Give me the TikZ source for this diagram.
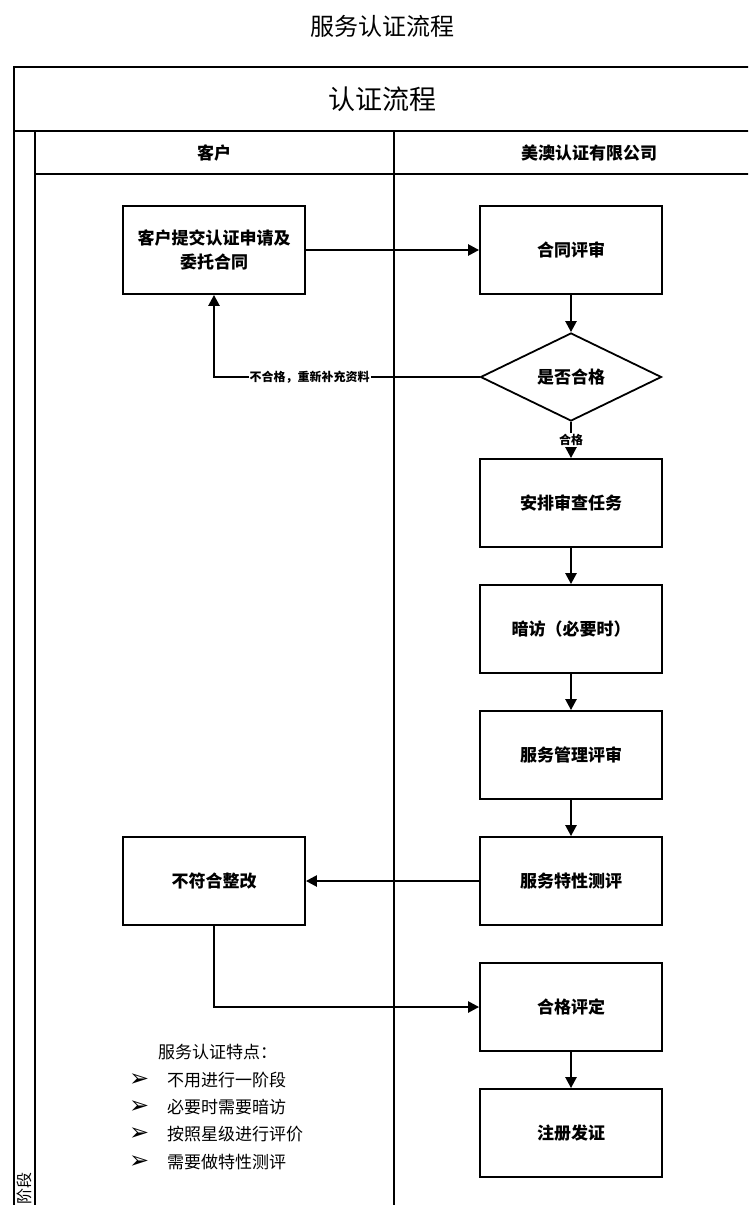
\documentclass[tikz,border=0pt]{standalone}
\usepackage{fontspec}
\setmainfont{Liberation Sans}
\newfontfamily\cjk{Noto Sans CJK SC}
\newfontfamily\symfont{DejaVu Sans}
\usetikzlibrary{arrows.meta,shapes.geometric}
\begin{document}
\begin{tikzpicture}[x=1pt,y=-1pt,
  box/.style={draw, line width=1.8pt, minimum width=182pt, minimum height=88pt, inner sep=0pt, align=center, font=\cjk\bfseries\fontsize{17}{24}\selectfont},
  dia/.style={draw, diamond, aspect=2, line width=1.8pt, minimum width=181pt, minimum height=88pt, inner sep=0pt, font=\cjk\bfseries\fontsize{17}{24}\selectfont},
  conn/.style={line width=2.4pt, -{Triangle[length=11pt,width=11pt]}},
  lab/.style={fill=white, inner sep=1pt, font=\cjk\bfseries\fontsize{12}{14}\selectfont},
  frame/.style={line width=1.8pt},
  thin/.style={line width=1.3pt},
  bul/.style={anchor=west, inner sep=0pt, font=\symfont\fontsize{24}{26}\selectfont},
  note/.style={anchor=west, inner sep=0pt, font=\cjk\fontsize{17}{20}\selectfont}]
\useasboundingbox (0,0) rectangle (748,1205);
\clip (0,0) rectangle (748,1205);
\fill[white] (0,0) rectangle (748,1205);

% page title
\node[font=\cjk\fontsize{24}{28}\selectfont] (pagetitle) at (382,26) {服务认证流程};

% table frame
\draw[frame] (14,1215) -- (14,67) -- (760,67);
\draw[frame] (14,131) -- (760,131);
\draw[thin] (35,131) -- (35,1215);
\draw[thin] (35,174) -- (760,174);
\draw[thin] (394,131) -- (394,1215);

\node[font=\cjk\fontsize{27}{32}\selectfont] (tabtitle) at (382,99) {认证流程};
\node[font=\cjk\bfseries\fontsize{17}{20}\selectfont] (lane1) at (214,153) {客户};
\node[font=\cjk\bfseries\fontsize{17}{20}\selectfont] (lane2) at (589,153) {美澳认证有限公司};
\node[rotate=90, anchor=east, inner sep=0pt, font=\cjk\fontsize{16}{18}\selectfont] (phase) at (24,1172) {阶段};

% nodes
\node[box] (apply) at (214,250) {客户提交认证申请及\\委托合同};
\node[box] (review) at (571,250) {合同评审};
\node[dia] (ok) at (571,377) {是否合格};
\node[box] (plan) at (571,503) {安排审查任务};
\node[box] (visit) at (571,629) {暗访（必要时）};
\node[box] (mgmt) at (571,755) {服务管理评审};
\node[box] (test) at (571,881) {服务特性测评};
\node[box] (fix) at (214,881) {不符合整改};
\node[box] (judge) at (571,1007) {合格评定};
\node[box] (cert) at (571,1133) {注册发证};

% connectors
\draw[conn] (apply) -- (review);
\draw[conn] (review) -- (ok);
\draw[conn] (ok.west) -| node[lab, pos=0.32] {不合格，重新补充资料} (apply.south);
\draw[conn] (ok.south) -- node[lab] {合格} (plan.north);
\draw[conn] (plan) -- (visit);
\draw[conn] (visit) -- (mgmt);
\draw[conn] (mgmt) -- (test);
\draw[conn] (test) -- (fix);
\draw[conn] (fix.south) |- (judge.west);
\draw[conn] (judge) -- (cert);

% notes
\node[note] (nt) at (158,1052) {服务认证特点：};
\node[bul] (b1) at (129,1080) {➢};
\node[note] (t1) at (167,1080) {不用进行一阶段};
\node[bul] (b2) at (129,1107) {➢};
\node[note] (t2) at (167,1107) {必要时需要暗访};
\node[bul] (b3) at (129,1134) {➢};
\node[note] (t3) at (167,1134) {按照星级进行评价};
\node[bul] (b4) at (129,1162) {➢};
\node[note] (t4) at (167,1162) {需要做特性测评};
\end{tikzpicture}
\end{document}
